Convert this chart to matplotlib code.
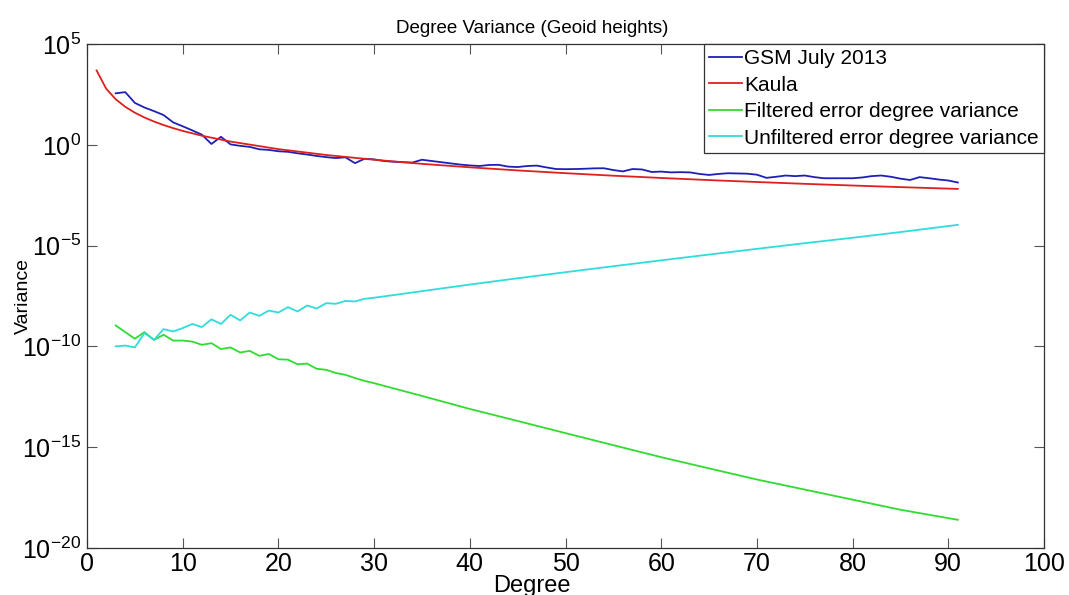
import matplotlib
matplotlib.use('Agg')
import matplotlib.pyplot as plt
import numpy as np

plt.rcParams['font.family'] = ['Liberation Sans', 'DejaVu Sans']
plt.rcParams['mathtext.fontset'] = 'custom'
plt.rcParams['mathtext.rm'] = 'Liberation Sans'
plt.rcParams['mathtext.it'] = 'Liberation Sans'

# Kaula rule of thumb
kaula_deg = [1, 2, 3, 4, 5, 6, 7, 8, 9, 10, 12, 15, 20, 25, 30, 35, 40, 45,
             50, 55, 60, 65, 70, 75, 80, 85, 91]
kaula = [4900, 612, 181.5, 76.6, 39.2, 22.7, 14.3, 9.57, 6.72, 4.90, 2.83,
         1.45, 0.612, 0.313, 0.182, 0.114, 0.0766, 0.0537, 0.0392, 0.0294,
         0.0227, 0.0178, 0.0143, 0.0116, 0.00957, 0.00798, 0.00650]

# GSM July 2013 signal degree variances, degrees 3..91
gsm_deg = list(range(3, 92))
gsm = [3.6e2, 4.1e2, 1.2e2, 71, 47, 30, 13, 8.3, 5.2, 3.2,
       1.1, 2.5, 1.05, 0.89, 0.79, 0.60, 0.56, 0.48, 0.45, 0.38,
       0.33, 0.28, 0.245, 0.22, 0.24, 0.123, 0.204, 0.19, 0.158, 0.145,
       0.138, 0.132, 0.182, 0.158, 0.138, 0.12, 0.105, 0.095, 0.089, 0.10,
       0.102, 0.083, 0.079, 0.089, 0.093, 0.076, 0.063, 0.062, 0.063, 0.065,
       0.068, 0.069, 0.056, 0.048, 0.063, 0.060, 0.045, 0.047, 0.043, 0.044,
       0.043, 0.036, 0.032, 0.036, 0.039, 0.038, 0.037, 0.033, 0.023, 0.026,
       0.030, 0.028, 0.030, 0.025, 0.022, 0.022, 0.022, 0.022, 0.024, 0.028,
       0.030, 0.026, 0.021, 0.018, 0.025, 0.022, 0.019, 0.017, 0.0135]

# error degree variances
err_deg = list(range(3, 31)) + [35, 40, 45, 50, 55, 60, 65, 70, 75, 80, 85, 91]
filtered = [1.1e-9, 5.1e-10, 2.4e-10, 5.1e-10, 2.1e-10, 3.8e-10, 1.95e-10,
            1.95e-10, 1.74e-10, 1.2e-10, 1.45e-10, 7.4e-11, 8.9e-11, 5.0e-11,
            6.0e-11, 3.4e-11, 4.2e-11, 2.3e-11, 2.2e-11, 1.3e-11, 1.4e-11,
            7.8e-12, 6.9e-12, 4.8e-12, 3.9e-12, 2.7e-12, 1.95e-12, 1.5e-12,
            3.5e-13, 7.9e-14, 2.0e-14, 5.0e-15, 1.26e-15, 3.2e-16, 8.9e-17,
            2.5e-17, 7.9e-18, 2.5e-18, 7.9e-19, 2.5e-19]
unfiltered = [1.0e-10, 1.1e-10, 8.9e-11, 4.6e-10, 2.1e-10, 7.2e-10, 5.5e-10,
              8.1e-10, 1.3e-9, 9.1e-10, 2.2e-9, 1.3e-9, 3.7e-9, 1.95e-9,
              4.8e-9, 3.3e-9, 6.0e-9, 4.8e-9, 8.9e-9, 5.4e-9, 1.07e-8, 7.6e-9,
              1.4e-8, 1.3e-8, 1.8e-8, 1.7e-8, 2.3e-8, 2.6e-8,
              5.5e-8, 1.17e-7, 2.4e-7, 4.8e-7, 9.5e-7, 1.86e-6, 3.6e-6,
              6.9e-6, 1.32e-5, 2.45e-5, 4.7e-5, 1.07e-4]

fig = plt.figure(figsize=(10.69, 5.95), dpi=100)
ax = fig.add_axes([0.0814, 0.079, 0.8952, 0.847])

lw = 1.3
ax.semilogy(gsm_deg, gsm, color='#1f1fb8', lw=lw, label='GSM July 2013')
ax.semilogy(kaula_deg, kaula, color='#e01f1f', lw=lw, label='Kaula')
ax.semilogy(err_deg, filtered, color='#30dc30', lw=lw,
            label='Filtered error degree variance')
ax.semilogy(err_deg, unfiltered, color='#30dcdc', lw=lw,
            label='Unfiltered error degree variance')

ax.set_xlim(0, 100)
ax.set_ylim(1e-20, 1e5)
ax.set_xticks(np.arange(0, 101, 10))
ax.set_yticks([1e-20, 1e-15, 1e-10, 1e-5, 1e0, 1e5])
ax.yaxis.set_minor_locator(matplotlib.ticker.NullLocator())
ax.tick_params(which='both', direction='in', top=True, right=True,
               length=7, width=0.8, color='#555555', labelsize=18)
ax.tick_params(axis='x', pad=3)
ax.tick_params(axis='y', pad=4)
for s in ax.spines.values():
    s.set_color('#333333')
    s.set_linewidth(0.9)

ax.set_title('Degree Variance (Geoid heights)', fontsize=13.5, x=0.465, pad=8)
ax.set_xlabel('Degree', fontsize=17)
ax.xaxis.set_label_coords(0.465, -0.053)
ax.set_ylabel('Variance', fontsize=14)
ax.yaxis.set_label_coords(-0.058, 0.5)

leg = ax.legend(loc='upper right', fontsize=15, handlelength=1.6,
                handletextpad=0.1, borderaxespad=0, borderpad=0.25,
                labelspacing=0.36, fancybox=False, framealpha=1)
leg.get_frame().set_edgecolor('#333333')
leg.get_frame().set_linewidth(0.9)

fig.savefig('out.png', dpi=100)
